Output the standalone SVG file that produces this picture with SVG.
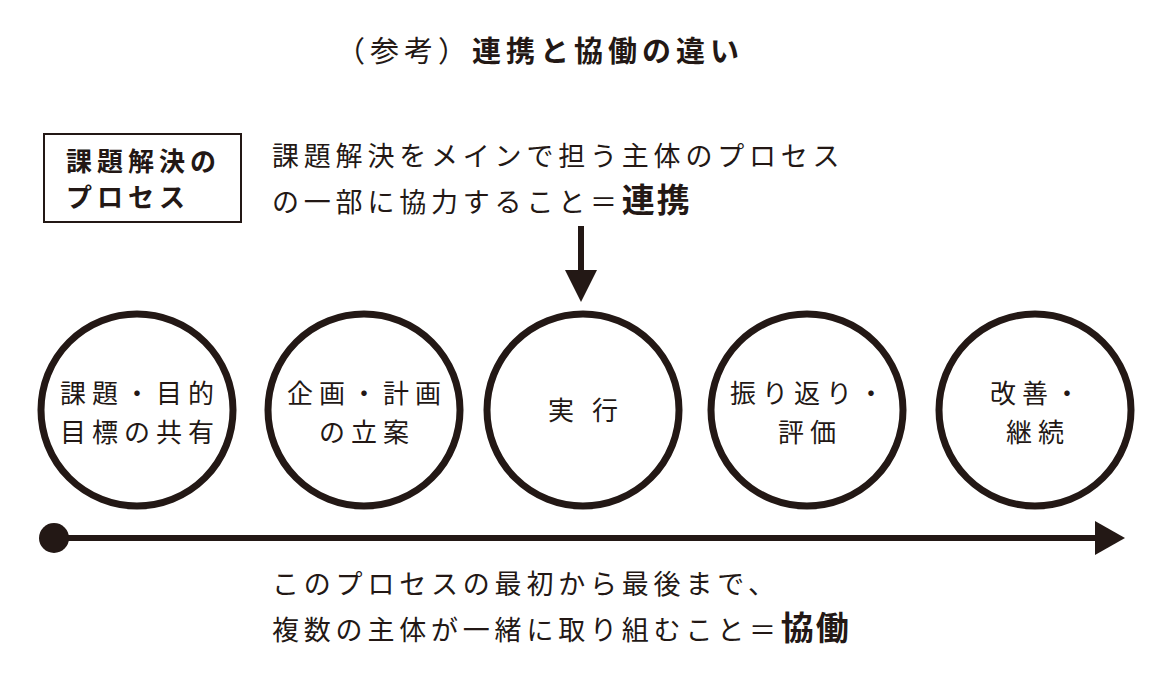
<svg xmlns="http://www.w3.org/2000/svg" width="1170" height="700" viewBox="0 0 1170 700">
<style>
text{font-family:"Noto Sans CJK JP","Noto Sans",sans-serif;fill:#231815}
.t{font-size:27px;letter-spacing:4.8px}
.c{font-size:26px;letter-spacing:6px;text-anchor:middle}
.b{font-weight:bold}
.circ{fill:#fff;stroke:#231815;stroke-width:7}
</style>
<rect width="1170" height="700" fill="#fff"/>
<text x="540" y="62" text-anchor="middle" style="font-size:29px;letter-spacing:5px"><tspan>（参考）</tspan><tspan class="b">連携と協働の違い</tspan></text>
<g id="box">
<rect x="44" y="134" width="197" height="88" fill="#fff" stroke="#231815" stroke-width="2"/>
<text x="66" y="171" class="b" style="font-size:26px;letter-spacing:5px">課題解決の</text>
<text x="66" y="207" class="b" style="font-size:26px;letter-spacing:5px">プロセス</text>
</g>
<g id="renkei">
<text x="272" y="166" class="t">課題解決をメインで担う主体のプロセス</text>
<text x="272" y="212" class="t">の一部に協力すること＝<tspan class="b" style="font-size:33px;letter-spacing:2px">連携</tspan></text>
</g>
<g id="connectors">
<line x1="581" y1="226" x2="581" y2="272" stroke="#231815" stroke-width="6"/>
<polygon points="565,270 597,270 581,302" fill="#231815"/>
<line x1="54" y1="538" x2="1098" y2="538" stroke="#231815" stroke-width="6"/>
<polygon points="1095,521 1125,538 1095,555" fill="#231815"/>
<circle cx="54" cy="538" r="15" fill="#231815"/>
</g>
<g id="n1"><circle class="circ" cx="137" cy="410" r="96"/><text class="c" x="140" y="403">課題・目的</text><text class="c" x="140" y="442">目標の共有</text></g>
<g id="n2"><circle class="circ" cx="364" cy="410" r="96"/><text class="c" x="367" y="403">企画・計画</text><text class="c" x="367" y="442">の立案</text></g>
<g id="n3"><circle class="circ" cx="583" cy="410" r="96"/><text class="c" x="586" y="420">実 行</text></g>
<g id="n4"><circle class="circ" cx="807" cy="410" r="96"/><text class="c" x="810" y="403">振り返り・</text><text class="c" x="810" y="442">評価</text></g>
<g id="n5"><circle class="circ" cx="1035" cy="410" r="96"/><text class="c" x="1038" y="403">改善・</text><text class="c" x="1038" y="442">継続</text></g>
<g id="kyodo">
<text x="272" y="594" class="t">このプロセスの最初から最後まで、</text>
<text x="272" y="640" class="t">複数の主体が一緒に取り組むこと＝<tspan class="b" style="font-size:33px;letter-spacing:2px">協働</tspan></text>
</g>
</svg>
